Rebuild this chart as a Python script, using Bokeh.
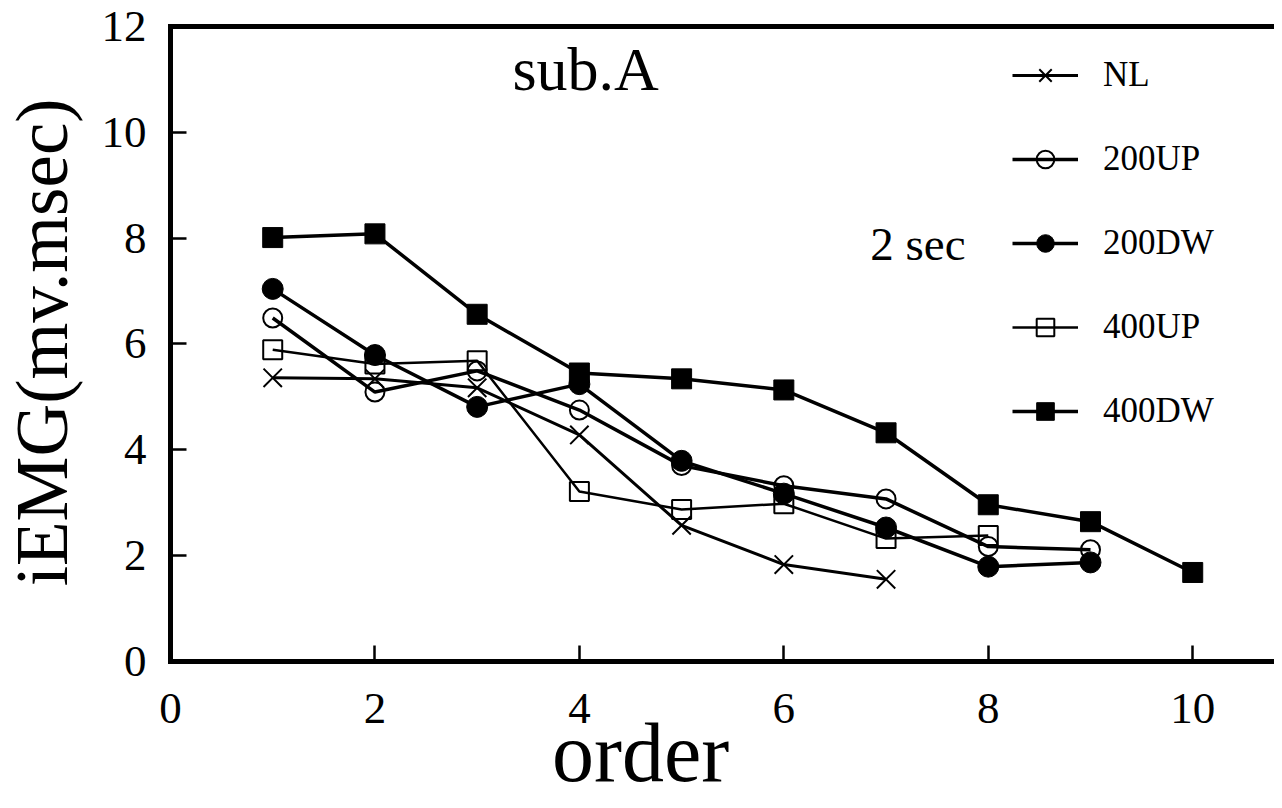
import math
from bokeh.plotting import figure
from bokeh.models import LinearAxis, FixedTicker, Legend, LegendItem, Label, Range1d
from bokeh.embed import file_html
from bokeh.resources import INLINE

# ---- data ----
series_names = ["NL", "200UP", "200DW", "400UP", "400DW"]

nl_x = [1, 2, 3, 4, 5, 6, 7]
nl_y = [5.36, 5.34, 5.17, 4.28, 2.57, 1.83, 1.55]

up200_x = [1, 2, 3, 4, 5, 6, 7, 8, 9]
up200_y = [6.49, 5.09, 5.49, 4.75, 3.70, 3.32, 3.07, 2.17, 2.11]

dw200_x = [1, 2, 3, 4, 5, 6, 7, 8, 9]
dw200_y = [7.04, 5.79, 4.81, 5.24, 3.79, 3.17, 2.53, 1.79, 1.87]

up400_x = [1, 2, 3, 4, 5, 6, 7, 8]
up400_y = [5.89, 5.62, 5.68, 3.21, 2.87, 2.98, 2.32, 2.38]

dw400_x = [1, 2, 3, 4, 5, 6, 7, 8, 9, 10]
dw400_y = [8.01, 8.08, 6.56, 5.45, 5.34, 5.13, 4.32, 2.96, 2.64, 1.68]

x_ticks = [0, 2, 4, 6, 8, 10]
y_ticks = [0, 2, 4, 6, 8, 10, 12]

FONT = "Liberation Serif"
X_MAX = 10.80
Y_MAX = 12

# frame covers the whole canvas; the axes sit at x=0 / y=0 / y=12
p = figure(width=1274, height=800,
           x_range=Range1d(-1.663, X_MAX), y_range=Range1d(-2.63, 12.491),
           output_backend="svg", toolbar_location=None,
           min_border_left=0, min_border_right=0,
           min_border_top=0, min_border_bottom=0)
p.outline_line_color = None
p.xgrid.grid_line_color = None
p.ygrid.grid_line_color = None
p.background_fill_color = "white"
p.border_fill_color = "white"

for ax in (p.xaxis[0], p.yaxis[0]):
    ax.fixed_location = 0
    ax.axis_line_width = 5
    ax.axis_line_color = "black"
    ax.axis_line_cap = "square"
    ax.major_tick_in = 16
    ax.major_tick_out = 0
    ax.major_tick_line_width = 2.5
    ax.major_tick_line_color = "black"
    ax.minor_tick_line_color = None
    ax.major_label_text_font = FONT
    ax.major_label_text_font_size = "45px"
    ax.major_label_text_color = "black"

p.xaxis[0].ticker = FixedTicker(ticks=x_ticks)
p.xaxis[0].bounds = (0, X_MAX)
p.xaxis[0].major_label_standoff = 33
p.yaxis[0].ticker = FixedTicker(ticks=y_ticks)
p.yaxis[0].bounds = (0, Y_MAX)
p.yaxis[0].major_label_standoff = 24

# top border of the frame at y = 12
top_axis = LinearAxis(ticker=FixedTicker(ticks=[]), bounds=(0, X_MAX),
                      fixed_location=Y_MAX,
                      axis_line_width=5, axis_line_color="black",
                      axis_line_cap="square",
                      major_label_text_font_size="0px",
                      major_tick_line_color=None, minor_tick_line_color=None)
p.add_layout(top_axis, "above")

# ---- series ----
l1 = p.line(nl_x, nl_y, line_color="black", line_width=3)
s1 = p.scatter(nl_x, nl_y, marker="x", size=26, line_color="black", line_width=2)

l2 = p.line(up200_x, up200_y, line_color="black", line_width=3.5)
s2 = p.scatter(up200_x, up200_y, marker="circle", size=19, fill_color=None,
               line_color="black", line_width=2)

l3 = p.line(dw200_x, dw200_y, line_color="black", line_width=3.5)
s3 = p.scatter(dw200_x, dw200_y, marker="circle", size=21, fill_color="black",
               line_color="black")

l4 = p.line(up400_x, up400_y, line_color="black", line_width=2.5)
s4 = p.scatter(up400_x, up400_y, marker="square", size=19, fill_color=None,
               line_color="black", line_width=2)

l5 = p.line(dw400_x, dw400_y, line_color="black", line_width=3.5)
s5 = p.scatter(dw400_x, dw400_y, marker="square", size=20, fill_color="black",
               line_color="black")

pairs = [(l1, s1), (l2, s2), (l3, s3), (l4, s4), (l5, s5)]
items = [LegendItem(label=n, renderers=[l, s]) for n, (l, s) in zip(series_names, pairs)]
legend = Legend(items=items, location=(1012, 367),
                glyph_width=66, glyph_height=44, spacing=40, label_height=44,
                label_standoff=25, padding=0, margin=0,
                border_line_color=None, background_fill_alpha=0,
                label_text_font=FONT, label_text_font_size="35px",
                label_text_color="black")
p.add_layout(legend)

# ---- texts ----
p.add_layout(Label(x=3.345, y=11.19, text="sub.A", text_font=FONT,
                   text_font_size="62px", text_baseline="middle",
                   text_color="black"))
p.add_layout(Label(x=6.846, y=7.88, text="2 sec", text_font=FONT,
                   text_font_size="47px", text_baseline="middle",
                   text_color="black"))
p.add_layout(Label(x=4.6, y=-1.731, text="order", text_font=FONT,
                   text_font_size="84px", text_align="center",
                   text_baseline="middle", text_color="black"))
p.add_layout(Label(x=-1.25, y=6.03, text="iEMG(mv.msec)", text_font=FONT,
                   text_font_size="73px", text_align="center",
                   text_baseline="middle", angle=math.pi / 2,
                   text_color="black"))

open("out.html", "w").write(file_html(p, INLINE))
